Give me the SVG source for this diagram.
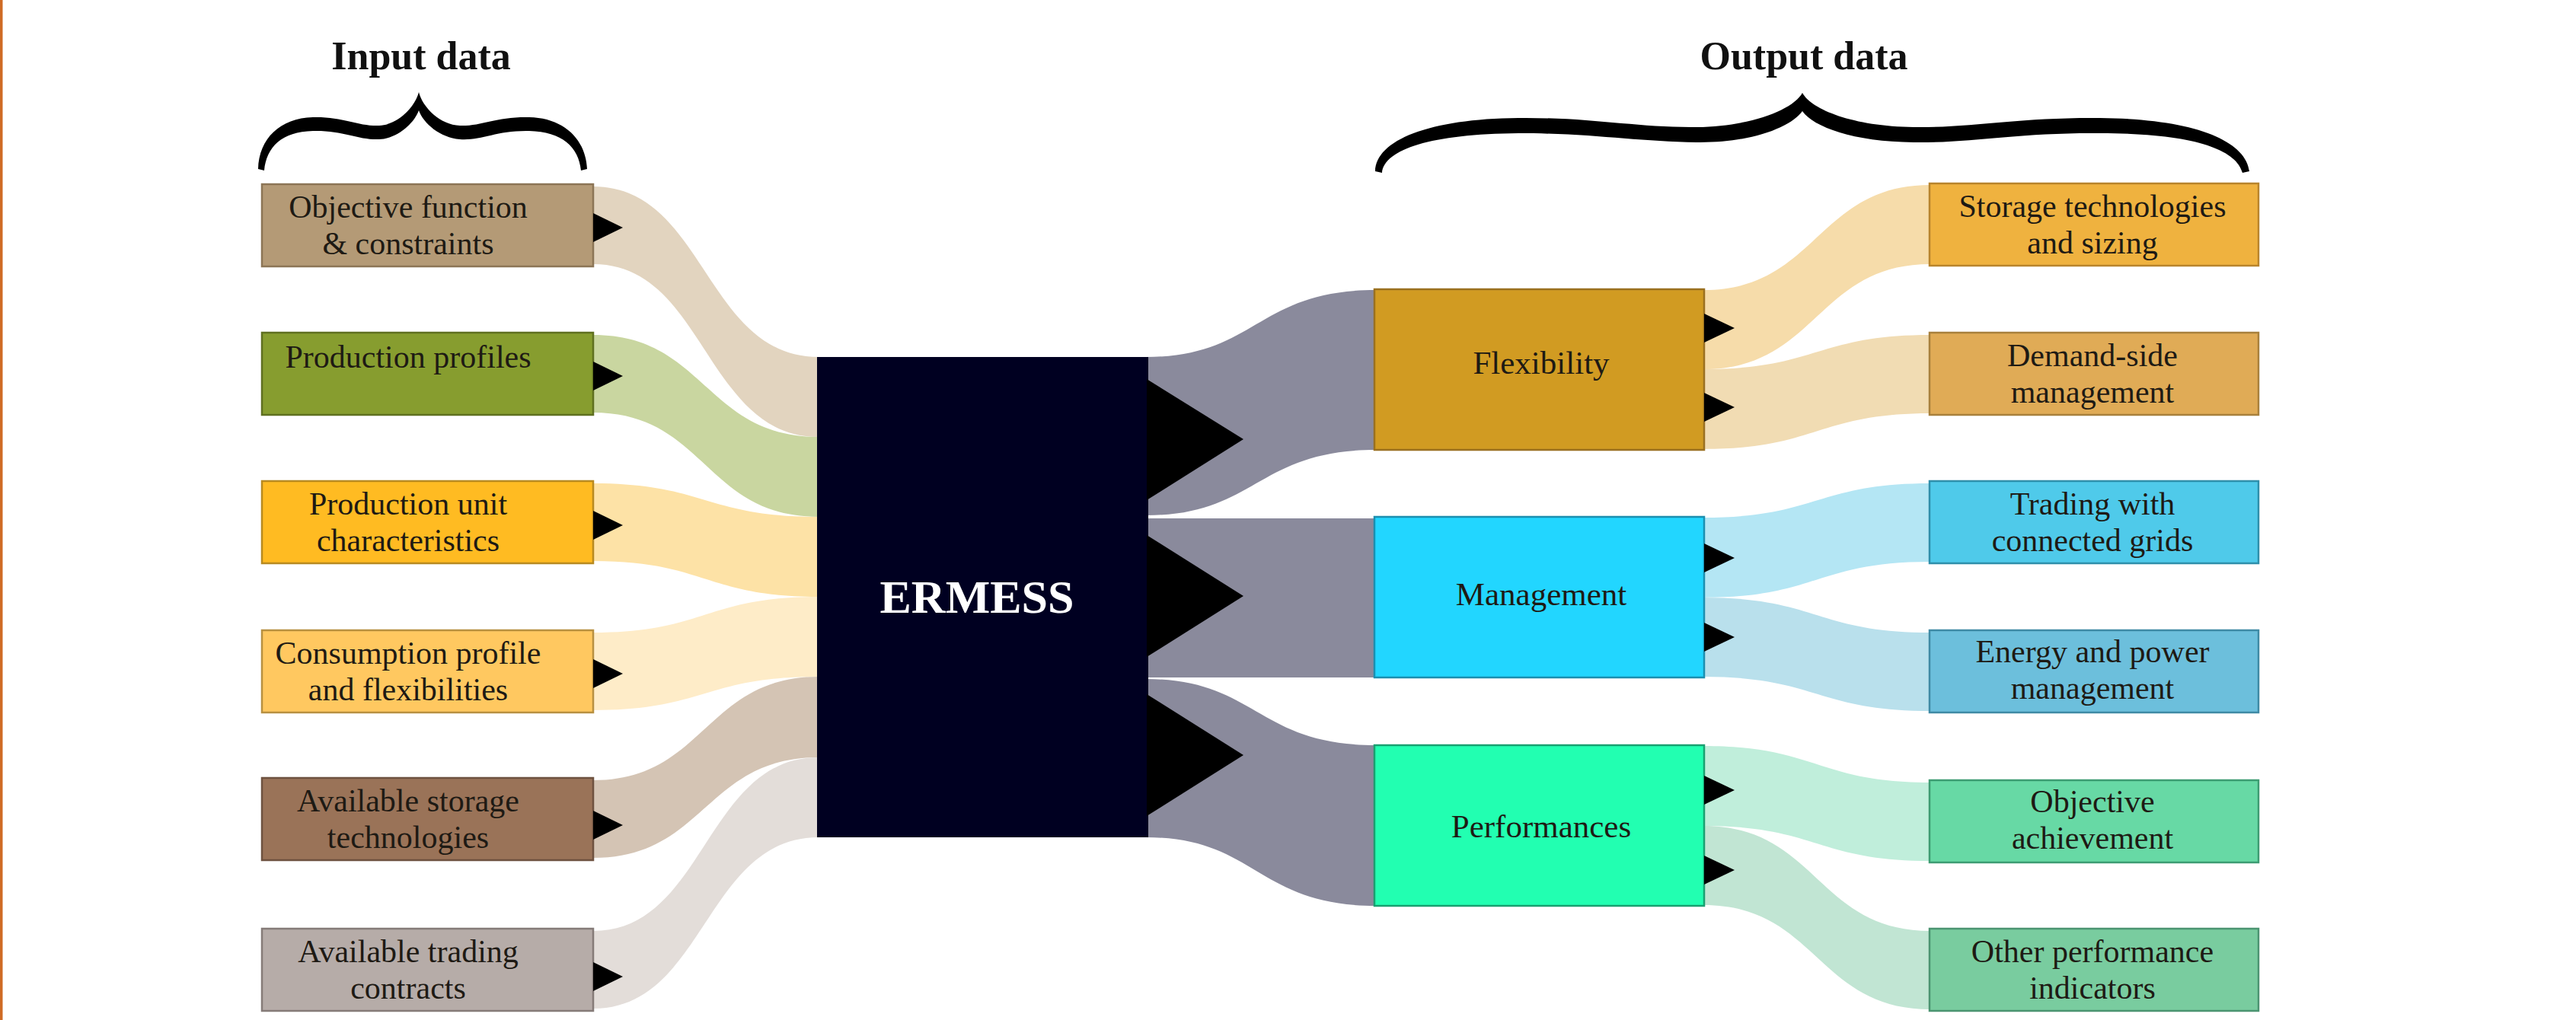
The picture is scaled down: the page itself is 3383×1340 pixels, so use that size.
<svg xmlns="http://www.w3.org/2000/svg" width="3383" height="1340" viewBox="0 0 3383 1340">
<style>
  text { font-family: "Liberation Serif", "Times New Roman", serif; fill: #1e1a14; text-anchor: middle; }
  .lbl { font-size: 42px; }
  .mid { font-size: 43px; }
  .hdr { font-size: 52px; font-weight: bold; fill: #111; }
  .core { font-size: 62px; font-weight: bold; fill: #ffffff; }
  .box { stroke-width: 2.5; }
  .tri { fill: #000000; }
  .brace { fill: #000000; }
</style>
<rect x="0" y="0" width="3383" height="1340" fill="#ffffff"/>
<rect x="0" y="0" width="3.5" height="1340" fill="#cf6b25"/>

<!-- headers and braces -->
<g id="input-header">
  <text class="hdr" x="553" y="91">Input data</text>
  <path class="brace" d="M339,222 C340,182 368,155 411,154 C450,153 470,166 498,165 C522,164 545,141 550,121 C555,141 578,164 604,165 C632,166 652,153 695,154 C740,155 769,182 771,222 L763,224 C760,193 738,173 695,172 C652,171 632,185 604,183 C578,181 556,162 550,145 C544,162 522,182 498,183 C470,184 450,171 411,172 C370,173 350,193 347,224 Z"/>
</g>
<g id="output-header">
  <text class="hdr" x="2369" y="91">Output data</text>
  <path class="brace" d="M1806,225 C1807,184 1877,156 1994,155 C2090,154 2150,168 2228,167 C2300,166 2355,144 2367,122 C2379,144 2434,166 2513,167 C2590,168 2650,154 2758,155 C2880,156 2949,184 2954,225 L2945,227 C2937,196 2880,175 2758,175 C2650,174 2590,188 2513,187 C2434,186 2382,167 2367,146 C2352,167 2300,188 2228,187 C2150,186 2090,175 1994,175 C1880,176 1818,196 1815,227 Z"/>
</g>

<!-- connectors (sankey bands) -->
<g id="connectors">
  <path fill="#e2d4bf" d="M779,245 C926,245 926,469 1075,469 L1075,574 C926,574 926,347 779,347 Z"/>
  <path fill="#c9d6a0" d="M779,440 C926,440 926,574 1075,574 L1075,679 C926,679 926,542 779,542 Z"/>
  <path fill="#fde2a6" d="M779,635 C926,635 926,679 1075,679 L1075,784 C926,784 926,737 779,737 Z"/>
  <path fill="#feecc8" d="M779,831 C926,831 926,784 1075,784 L1075,889 C926,889 926,933 779,933 Z"/>
  <path fill="#d4c4b4" d="M779,1025 C926,1025 926,889 1075,889 L1075,995 C926,995 926,1127 779,1127 Z"/>
  <path fill="#e3ddd9" d="M779,1223 C926,1223 926,995 1075,995 L1075,1100 C926,1100 926,1325 779,1325 Z"/>

  <path fill="#8a8a9c" d="M1505,469 C1650,469 1650,381 1807,381 L1807,591 C1650,591 1650,677 1505,677 Z"/>
  <path fill="#8a8a9c" d="M1505,681 L1807,681 L1807,890 L1505,890 Z"/>
  <path fill="#8a8a9c" d="M1505,892 C1650,892 1650,979 1807,979 L1807,1190 C1650,1190 1650,1100 1505,1100 Z"/>

  <path fill="#f6dcaa" d="M2237,381 C2386,381 2386,243 2535,243 L2535,347 C2386,347 2386,485 2237,485 Z"/>
  <path fill="#f1dcb3" d="M2237,485 C2386,485 2386,440 2535,440 L2535,543 C2386,543 2386,590 2237,590 Z"/>
  <path fill="#b4e6f4" d="M2237,680 C2386,680 2386,635 2535,635 L2535,738 C2386,738 2386,785 2237,785 Z"/>
  <path fill="#b9e0ec" d="M2237,785 C2386,785 2386,831 2535,831 L2535,934 C2386,934 2386,889 2237,889 Z"/>
  <path fill="#c0eedb" d="M2237,980 C2386,980 2386,1028 2535,1028 L2535,1131 C2386,1131 2386,1085 2237,1085 Z"/>
  <path fill="#c1e5d3" d="M2237,1085 C2386,1085 2386,1223 2535,1223 L2535,1326 C2386,1326 2386,1189 2237,1189 Z"/>
</g>

<!-- input nodes -->
<g id="in-objective">
  <rect class="box" x="344" y="242" width="435" height="108" fill="#b49a76" stroke="#8c7556"/>
  <text class="lbl" x="536" y="286">Objective function</text>
  <text class="lbl" x="536" y="334">&amp; constraints</text>
  <path class="tri" d="M779,280 L818,299 L779,318 Z"/>
</g>
<g id="in-production-profiles">
  <rect class="box" x="344" y="437" width="435" height="108" fill="#879d2f" stroke="#5f7020"/>
  <text class="lbl" x="536" y="483">Production profiles</text>
  <path class="tri" d="M779,475 L818,494 L779,513 Z"/>
</g>
<g id="in-production-unit">
  <rect class="box" x="344" y="632" width="435" height="108" fill="#ffbb22" stroke="#b88a20"/>
  <text class="lbl" x="536" y="676">Production unit</text>
  <text class="lbl" x="536" y="724">characteristics</text>
  <path class="tri" d="M779,671 L818,690 L779,709 Z"/>
</g>
<g id="in-consumption">
  <rect class="box" x="344" y="828" width="435" height="108" fill="#ffc860" stroke="#b89040"/>
  <text class="lbl" x="536" y="872">Consumption profile</text>
  <text class="lbl" x="536" y="920">and flexibilities</text>
  <path class="tri" d="M779,866 L818,885 L779,904 Z"/>
</g>
<g id="in-storage">
  <rect class="box" x="344" y="1022" width="435" height="108" fill="#9a7358" stroke="#6e5240"/>
  <text class="lbl" x="536" y="1066">Available storage</text>
  <text class="lbl" x="536" y="1114">technologies</text>
  <path class="tri" d="M779,1065 L818,1084 L779,1103 Z"/>
</g>
<g id="in-trading">
  <rect class="box" x="344" y="1220" width="435" height="108" fill="#b6aca8" stroke="#857b78"/>
  <text class="lbl" x="536" y="1264">Available trading</text>
  <text class="lbl" x="536" y="1312">contracts</text>
  <path class="tri" d="M779,1264 L818,1283 L779,1302 Z"/>
</g>

<!-- core node -->
<g id="ermess">
  <rect x="1073" y="469" width="435" height="631" fill="#000021"/>
  <text class="core" x="1283" y="805">ERMESS</text>
  <path class="tri" d="M1506,498 L1633,577 L1506,657 Z"/>
  <path class="tri" d="M1506,703 L1633,783 L1506,863 Z"/>
  <path class="tri" d="M1506,912 L1633,992 L1506,1072 Z"/>
</g>

<!-- middle nodes -->
<g id="flexibility">
  <rect class="box" x="1805" y="380" width="433" height="211" fill="#d19b22" stroke="#9a7020"/>
  <text class="mid" x="2024" y="491">Flexibility</text>
  <path class="tri" d="M2238,412 L2278,431 L2238,450 Z"/>
  <path class="tri" d="M2238,516 L2278,535 L2238,554 Z"/>
</g>
<g id="management">
  <rect class="box" x="1805" y="679" width="433" height="211" fill="#22d6ff" stroke="#1a8fb0"/>
  <text class="mid" x="2024" y="795">Management</text>
  <path class="tri" d="M2238,714 L2278,733 L2238,752 Z"/>
  <path class="tri" d="M2238,818 L2278,837 L2238,856 Z"/>
</g>
<g id="performances">
  <rect class="box" x="1805" y="979" width="433" height="211" fill="#22ffb1" stroke="#19a070"/>
  <text class="mid" x="2024" y="1100">Performances</text>
  <path class="tri" d="M2238,1019 L2278,1038 L2238,1057 Z"/>
  <path class="tri" d="M2238,1124 L2278,1143 L2238,1162 Z"/>
</g>

<!-- output nodes -->
<g id="out-storage">
  <rect class="box" x="2534" y="241" width="432" height="108" fill="#efb23f" stroke="#b8842c"/>
  <text class="lbl" x="2748" y="285">Storage technologies</text>
  <text class="lbl" x="2748" y="333">and sizing</text>
</g>
<g id="out-demand">
  <rect class="box" x="2534" y="437" width="432" height="108" fill="#e0ab56" stroke="#a8803c"/>
  <text class="lbl" x="2748" y="481">Demand-side</text>
  <text class="lbl" x="2748" y="529">management</text>
</g>
<g id="out-trading">
  <rect class="box" x="2534" y="632" width="432" height="108" fill="#4fcaea" stroke="#2e8fab"/>
  <text class="lbl" x="2748" y="676">Trading with</text>
  <text class="lbl" x="2748" y="724">connected grids</text>
</g>
<g id="out-energy">
  <rect class="box" x="2534" y="828" width="432" height="108" fill="#6cbfdc" stroke="#3f8aa5"/>
  <text class="lbl" x="2748" y="870">Energy and power</text>
  <text class="lbl" x="2748" y="918">management</text>
</g>
<g id="out-objective">
  <rect class="box" x="2534" y="1025" width="432" height="108" fill="#67d9a5" stroke="#3d9c72"/>
  <text class="lbl" x="2748" y="1067">Objective</text>
  <text class="lbl" x="2748" y="1115">achievement</text>
</g>
<g id="out-other">
  <rect class="box" x="2534" y="1220" width="432" height="108" fill="#79cc9f" stroke="#4b9471"/>
  <text class="lbl" x="2748" y="1264">Other performance</text>
  <text class="lbl" x="2748" y="1312">indicators</text>
</g>
</svg>
